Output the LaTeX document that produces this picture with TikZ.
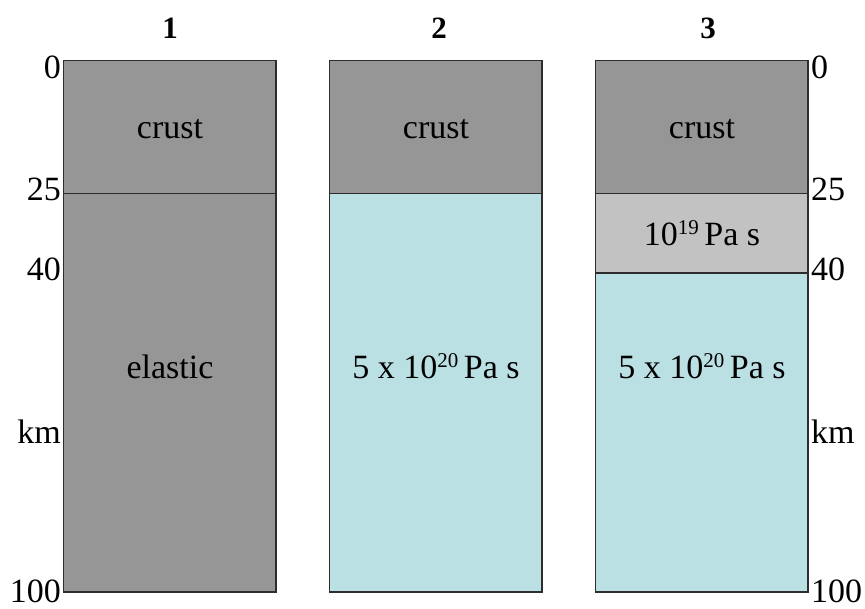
\documentclass[tikz,border=0pt]{standalone}
\usepackage{fontspec}
\setmainfont{Liberation Serif}
\newcommand{\expo}[1]{\raisebox{0.3em}{\fontsize{21}{21}\selectfont #1}}
\definecolor{crustgray}{RGB}{150,150,150}
\definecolor{softgray}{RGB}{194,194,194}
\definecolor{mantleblue}{RGB}{187,224,227}
\definecolor{edge}{RGB}{45,45,45}
\begin{document}
\begin{tikzpicture}[x=1pt,y=-1pt,
  layer/.style={draw=edge,line width=1.4pt},
  lbl/.style={inner sep=0pt,anchor=base,font=\fontsize{34}{40}\selectfont},
  depthL/.style={inner sep=0pt,anchor=base east,font=\fontsize{34}{40}\selectfont},
  depthR/.style={inner sep=0pt,anchor=base west,font=\fontsize{34}{40}\selectfont},
  ttl/.style={inner sep=0pt,anchor=base,font=\fontsize{31}{36}\selectfont\bfseries}]
\useasboundingbox (0,0) rectangle (865,608);
\fill[white] (0,0) rectangle (865,608);

% column 1: crust over elastic
\fill[crustgray] (63.5,60.5) rectangle (276,592);
\draw[layer] (63.5,193.4) -- (276,193.4);
\draw[layer] (63.5,60.5) rectangle (276,592);

% column 2: crust over viscous mantle
\fill[crustgray] (329.5,60.5) rectangle (542,193.4);
\fill[mantleblue] (329.5,193.4) rectangle (542,592);
\draw[layer] (329.5,193.4) -- (542,193.4);
\draw[layer] (329.5,60.5) rectangle (542,592);

% column 3: crust, weak lower crust, viscous mantle
\fill[crustgray] (595.5,60.5) rectangle (808,193.4);
\fill[softgray] (595.5,193.4) rectangle (808,273);
\fill[mantleblue] (595.5,273) rectangle (808,592);
\draw[layer] (595.5,193.4) -- (808,193.4);
\draw[layer] (595.5,273) -- (808,273);
\draw[layer] (595.5,60.5) rectangle (808,592);

% titles
\node[ttl] (t1) at (170,38) {1};
\node[ttl] (t2) at (439,38) {2};
\node[ttl] (t3) at (708,38) {3};

% layer labels
\node[lbl] (c1) at (170,138) {crust};
\node[lbl] (c2) at (436,138) {crust};
\node[lbl] (c3) at (702,138) {crust};
\node[lbl] (e1) at (170,378) {elastic};
\node[lbl] (v2) at (436,378) {5 x 10\expo{20}\,Pa s};
\node[lbl] (w3) at (702,245) {10\expo{19}\,Pa s};
\node[lbl] (v3) at (702,378) {5 x 10\expo{20}\,Pa s};

% depth scale, left
\node[depthL] (l0) at (61,78) {0};
\node[depthL] (l25) at (61,200) {25};
\node[depthL] (l40) at (61,280) {40};
\node[depthL] (lkm) at (61,443) {km};
\node[depthL] (l100) at (61,602) {100};

% depth scale, right
\node[depthR] (r0) at (811,78) {0};
\node[depthR] (r25) at (811,200) {25};
\node[depthR] (r40) at (811,280) {40};
\node[depthR] (rkm) at (811,443) {km};
\node[depthR] (r100) at (811,602) {100};
\end{tikzpicture}
\end{document}
